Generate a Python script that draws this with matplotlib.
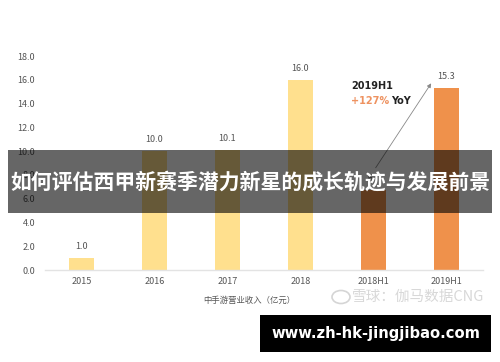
import matplotlib
matplotlib.use("Agg")
import matplotlib.pyplot as plt
from matplotlib.patches import Rectangle, Circle

plt.rcParams['font.family'] = ['Noto Sans CJK SC', 'DejaVu Sans']

categories = ["2015", "2016", "2017", "2018", "2018H1", "2019H1"]
values = [1.0, 10.0, 10.1, 16.0, 6.7, 15.3]
value_labels = ["1.0", "10.0", "10.1", "16.0", "6.7", "15.3"]
yticks = [0, 2, 4, 6, 8, 10, 12, 14, 16, 18]
colors = ["#FFE08E", "#FFE08E", "#FFE08E", "#FFE08E", "#EF914B", "#EF914B"]

W, H = 500, 362
fig = plt.figure(figsize=(W / 100, H / 100), dpi=100)
fig.patch.set_facecolor("white")

def fx(px):
    return px / W

def fy(py):
    return 1 - py / H

ax = fig.add_axes([fx(45), fy(270), fx(483) - fx(45), fy(56) - fy(270)])
x = list(range(len(categories)))
ax.bar(x, values, width=0.33, color=colors, zorder=2)
for xi, v, lab in zip(x, values, value_labels):
    ax.annotate(lab, (xi, v), xytext=(0, 5), textcoords="offset points",
                ha="center", va="bottom", fontsize=6.5, color="#555555")

ax.set_xlim(-0.5, 5.5)
ax.set_ylim(0, 18)
ax.set_yticks(yticks)
ax.set_yticklabels([f"{t:.1f}" for t in yticks])
ax.set_xticks(x)
ax.set_xticklabels(categories)
ax.tick_params(axis="both", length=0, labelsize=6.5, colors="#555555")
ax.tick_params(axis="y", pad=7)
ax.tick_params(axis="x", pad=5)
for s in ["top", "right", "left"]:
    ax.spines[s].set_visible(False)
ax.spines["bottom"].set_color("#e3e3e3")
ax.spines["bottom"].set_linewidth(1.0)

# growth arrow from 2018H1 to 2019H1
ax.annotate("", xy=(4.79, 15.7), xytext=(4.03, 8.6),
            arrowprops=dict(arrowstyle="-|>", color="#888888", lw=0.6,
                            mutation_scale=6, shrinkA=0, shrinkB=0), zorder=3)
fig.text(fx(351), fy(86), "2019H1", fontsize=7, fontweight="bold",
         color="#222222", ha="left", va="center", family=["DejaVu Sans"])
fig.text(fx(351), fy(101), "+127%", fontsize=7, fontweight="bold",
         color="#EE9260", ha="left", va="center", family=["DejaVu Sans"])
fig.text(fx(391), fy(101), "YoY", fontsize=7, fontweight="bold",
         color="#222222", ha="left", va="center", family=["DejaVu Sans"])

# x-axis caption
fig.text(fx(249), fy(300), "中手游营业收入（亿元）", fontsize=6, color="#555555",
         ha="center", va="center")

# watermark
fig.patches.append(Circle((fx(341), fy(297)), 0.018, transform=fig.transFigure,
                          fill=False, edgecolor="#d5d5d5", lw=1.2))
fig.text(fx(352), fy(297), "雪球：伽马数据CNG", fontsize=10.5, color="#d8d8d8",
         ha="left", va="center")

# dark title banner
fig.patches.append(Rectangle((fx(8), fy(213)), fx(492) - fx(8), fy(150) - fy(213),
                             transform=fig.transFigure, facecolor="black",
                             alpha=0.6, edgecolor="none", zorder=10))
fig.text(fx(250), fy(182), "如何评估西甲新赛季潜力新星的成长轨迹与发展前景",
         fontsize=15, fontweight="bold", color="white", ha="center", va="center",
         zorder=11)

# bottom url box
fig.patches.append(Rectangle((fx(260), fy(352)), fx(491) - fx(260), fy(315) - fy(352),
                             transform=fig.transFigure, facecolor="black",
                             edgecolor="none", zorder=10))
fig.text(fx(375.5), fy(333.5), "www.zh-hk-jingjibao.com", fontsize=10.6,
         fontweight="bold", color="white", ha="center", va="center", zorder=11,
         family=["DejaVu Sans"])

fig.savefig("out.png", dpi=100)
